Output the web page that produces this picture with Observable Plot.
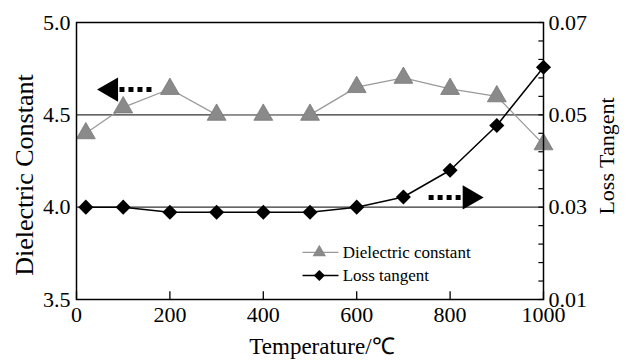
<!DOCTYPE html>
<html><head><meta charset="utf-8">
<script src="https://cdn.jsdelivr.net/npm/d3@7"></script>
<script src="https://cdn.jsdelivr.net/npm/@observablehq/plot@0.6"></script>
<style>
body{margin:0;background:#fff;}
#chart svg, #chart svg text { font-family: "Liberation Serif", "Times New Roman", serif !important; }
</style>
</head><body><div id="chart"></div>
<script>
// ---- data ----
const temperature = [20, 100, 200, 300, 400, 500, 600, 700, 800, 900, 1000];
const dielectricConstant = [4.40, 4.54, 4.64, 4.50, 4.50, 4.50, 4.65, 4.70, 4.64, 4.60, 4.34];
const lossTangent = [0.030, 0.030, 0.0289, 0.0289, 0.0289, 0.0289, 0.030, 0.0322, 0.038, 0.0477, 0.0603];
const xTicks = [0, 200, 400, 600, 800, 1000];
const leftTicks = [3.5, 4.0, 4.5, 5.0];
const gridValues = [4.0, 4.5];
const rightTickLabels = [0.01, 0.03, 0.05, 0.07];
const rightMinorTicks = [0.01, 0.014, 0.018, 0.022, 0.026, 0.03, 0.034, 0.038, 0.042, 0.046, 0.05, 0.054, 0.058, 0.062, 0.066, 0.07];
const seriesNames = ["Dielectric constant", "Loss tangent"];
const axisTitles = {x: "Temperature/℃", left: "Dielectric Constant", right: "Loss Tangent"};
// annotation arrows (data units: temperature, dielectric constant)
const arrowShafts = [{x1: 92, x2: 163, y: 4.637}, {x1: 754, x2: 827, y: 4.053}];
const arrowHeads = [{x: 74, y: 4.637, dir: -90}, {x: 842, y: 4.053, dir: 90}];
// legend anchor (data units)
const legendRows = [
  {x1: 484, x2: 561, xm: 520, xt: 570, y: 3.755, name: seriesNames[0], symbol: "triangle", fill: "#8a8a8a", stroke: "#999"},
  {x1: 484, x2: 561, xm: 520, xt: 570, y: 3.63, name: seriesNames[1], symbol: "diamond2", fill: "#000", stroke: "#000"}
];

const toLeft = d3.scaleLinear([0.01, 0.07], [3.5, 5.0]);
const dielData = temperature.map((t, i) => ({t, v: dielectricConstant[i]}));
const lossData = temperature.map((t, i) => ({t, v: toLeft(lossTangent[i])}));
const serif = "Liberation Serif";

const chart = Plot.plot({
  width: 628, height: 360,
  marginLeft: 76, marginRight: 85, marginTop: 22, marginBottom: 61,
  style: {fontFamily: serif, background: "#fff", color: "#000"},
  x: {domain: [0, 1000]},
  y: {domain: [3.5, 5.0]},
  marks: [
    Plot.ruleY(gridValues, {stroke: "#333", strokeWidth: 1.2}),
    Plot.line(dielData, {x: "t", y: "v", stroke: "#9a9a9a", strokeWidth: 1.3}),
    Plot.dot(dielData, {x: "t", y: "v", symbol: "triangle", r: 7, fill: "#8a8a8a", stroke: "#777", strokeWidth: 0.8}),
    Plot.line(lossData, {x: "t", y: "v", stroke: "#000", strokeWidth: 1.5}),
    Plot.dot(lossData, {x: "t", y: "v", symbol: "diamond2", r: 6.8, fill: "#000"}),
    // arrows
    Plot.link(arrowShafts, {x1: "x1", x2: "x2", y1: "y", y2: "y", stroke: "#000", strokeWidth: 5, strokeDasharray: "5,4"}),
    Plot.dot(arrowHeads, {x: "x", y: "y", symbol: "triangle", r: 9, fill: "#000", rotate: "dir"}),
    // legend
    Plot.link(legendRows, {x1: "x1", x2: "x2", y1: "y", y2: "y", stroke: "stroke", strokeWidth: 1.3}),
    Plot.dot(legendRows, {x: "xm", y: "y", symbol: "symbol", r: 5, fill: "fill"}),
    Plot.text(legendRows, {x: "xt", y: "y", text: "name", textAnchor: "start", fontSize: 17, fontFamily: serif}),
    // inward tick marks
    Plot.link(xTicks, {x1: d => d, x2: d => d, y1: 3.5, y2: 3.545, stroke: "#000", strokeWidth: 1.3}),
    Plot.link(rightMinorTicks.map(toLeft), {x1: 1000, x2: 989, y1: d => d, y2: d => d, stroke: "#000", strokeWidth: 1.2}),
    // axes
    Plot.axisX({ticks: xTicks, tickSize: 0, tickPadding: 7, tickFormat: d => String(d), fontSize: 22, fontFamily: serif, label: null}),
    Plot.axisY({ticks: leftTicks, tickSize: 0, tickPadding: 6, tickFormat: ".1f", fontSize: 22, fontFamily: serif, label: null}),
    Plot.axisY({anchor: "right", ticks: rightTickLabels.map(toLeft), tickSize: 0, tickPadding: 5,
      tickFormat: d => toLeft.invert(d).toFixed(2), fontSize: 22, fontFamily: serif, label: null}),
    Plot.frame({stroke: "#000", strokeWidth: 1.5}),
    // titles
    Plot.text([axisTitles.left], {frameAnchor: "left", textAnchor: "middle", lineAnchor: "middle", rotate: -90, dx: -52, dy: 14, fontSize: 26, fontFamily: serif}),
    Plot.text([axisTitles.right], {frameAnchor: "right", textAnchor: "middle", lineAnchor: "middle", rotate: -90, dx: 63, dy: -5, fontSize: 22, fontFamily: serif}),
    Plot.text([axisTitles.x], {frameAnchor: "bottom", textAnchor: "middle", lineAnchor: "middle", dx: 12, dy: 47, fontSize: 23, fontFamily: serif})
  ]
});
document.getElementById("chart").appendChild(chart);
</script>
</body></html>
